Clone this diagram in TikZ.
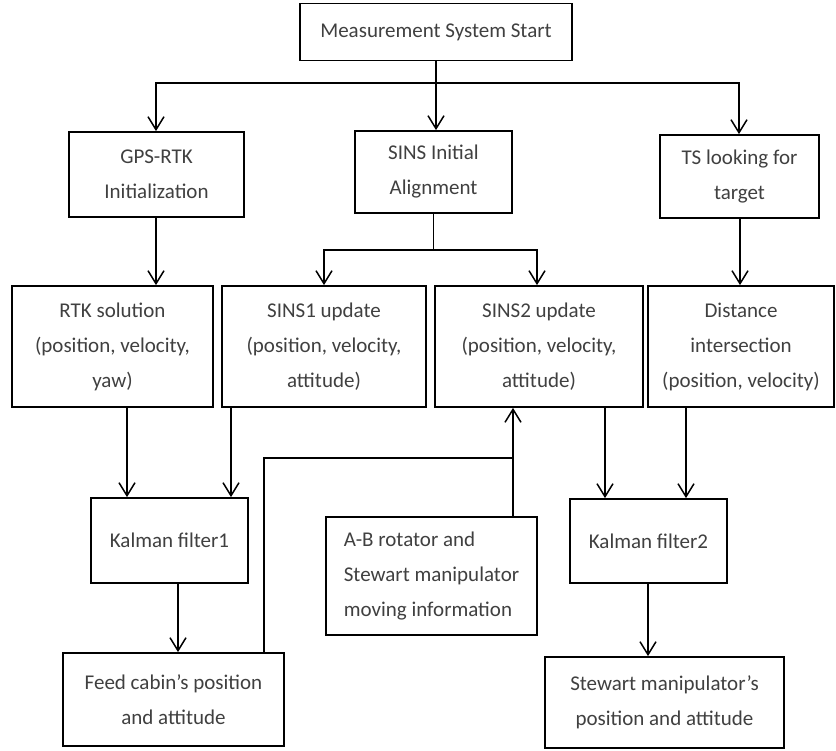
\documentclass[tikz,border=0pt]{standalone}
\usepackage{fontspec}
\setmainfont{Carlito}
\usetikzlibrary{arrows.meta,calc}
\begin{document}
\begin{tikzpicture}[x=1pt,y=1pt,
  box/.style={draw, line width=1.8pt, inner sep=0pt, align=center, text=black!75,
    font=\fontsize{21}{35}\selectfont},
  ln/.style={line width=1.5pt},
  arr/.style={line width=1.5pt, -{Straight Barb[length=13pt,width=16pt,line width=1.5pt]}}]
\useasboundingbox (0,0) rectangle (836,-751);
\fill[white] (0,0) rectangle (836,-751);
% row 0
\node[box, minimum width=272, minimum height=57] (start) at (436,-32) {Measurement System Start};
% row 1
\node[box, minimum width=175, minimum height=85] (gps) at (156.5,-174.5) {GPS-RTK\\Initialization};
\node[box, minimum width=157, minimum height=82] (sinit) at (433.5,-172) {SINS Initial\\Alignment};
\node[box, minimum width=159, minimum height=83] (ts) at (739.5,-176.5) {TS looking for\\target};
% row 2
\node[box, minimum width=201, minimum height=121] (rtk) at (112.5,-346.5) {RTK solution\\(position, velocity,\\yaw)};
\node[box, minimum width=204, minimum height=121] (sa) at (324,-346.5) {SINS1 update\\(position, velocity,\\attitude)};
\node[box, minimum width=208, minimum height=121] (sb) at (539,-346.5) {SINS2 update\\(position, velocity,\\attitude)};
\node[box, minimum width=186, minimum height=121] (dist) at (741,-346.5) {Distance\\intersection\\(position, velocity)};
% row 3
\node[box, minimum width=157, minimum height=85] (kfa) at (169.5,-540.5) {Kalman filter1};
\node[box, minimum width=211, minimum height=118, align=left] (ab) at (431.5,-576) {A-B rotator and\\Stewart manipulator\\moving information};
\node[box, minimum width=157, minimum height=84] (kfb) at (648.5,-541) {Kalman filter2};
% row 4
\node[box, minimum width=221, minimum height=93] (feed) at (173.5,-699.5) {Feed cabin’s position\\and attitude};
\node[box, minimum width=239, minimum height=91] (stew) at (664.5,-702.5) {Stewart manipulator’s\\position and attitude};
% connectors
\coordinate (j1) at (436,-83);
\draw[ln] (start.south) -- (j1);
\draw[arr] (j1) -| ([xshift=-0.5pt]gps.north);
\draw[arr] (j1) -- (j1 |- sinit.north);
\draw[arr] (j1) -| ([xshift=-0.5pt]ts.north);
\coordinate (j2) at ($(sinit.south)+(0,-36)$);
\draw[ln] (sinit.south) -- (j2);
\draw[arr] (j2) -| (sa.north);
\draw[arr] (j2) -| ([xshift=-2pt]sb.north);
\draw[arr] ([xshift=-0.5pt]gps.south) -- ([xshift=-0.5pt]gps.south |- rtk.north);
\draw[arr] ([xshift=0.5pt]ts.south) -- ([xshift=0.5pt]ts.south |- dist.north);
\draw[arr] ([xshift=14.5pt]rtk.south) -- ([xshift=14.5pt]rtk.south |- kfa.north);
\draw[arr] ([xshift=-93pt]sa.south) -- ([xshift=-93pt]sa.south |- kfa.north);
\draw[arr] ([xshift=66pt]sb.south) -- ([xshift=66pt]sb.south |- kfb.north);
\draw[arr] ([xshift=-55pt]dist.south) -- ([xshift=-55pt]dist.south |- kfb.north);
\draw[arr] ([xshift=8.5pt]kfa.south) -- ([xshift=8.5pt]kfa.south |- feed.north);
\draw[arr] ([xshift=-0.5pt]kfb.south) -- ([xshift=-0.5pt]kfb.south |- stew.north);
\coordinate (abtop) at ([xshift=81.5pt]ab.north);
\draw[arr] (abtop) -- (abtop |- sb.south);
\coordinate (j3) at ($(abtop)+(0,58)$);
\draw[ln] ([xshift=90.5pt]feed.north) |- (j3);
\end{tikzpicture}
\end{document}
